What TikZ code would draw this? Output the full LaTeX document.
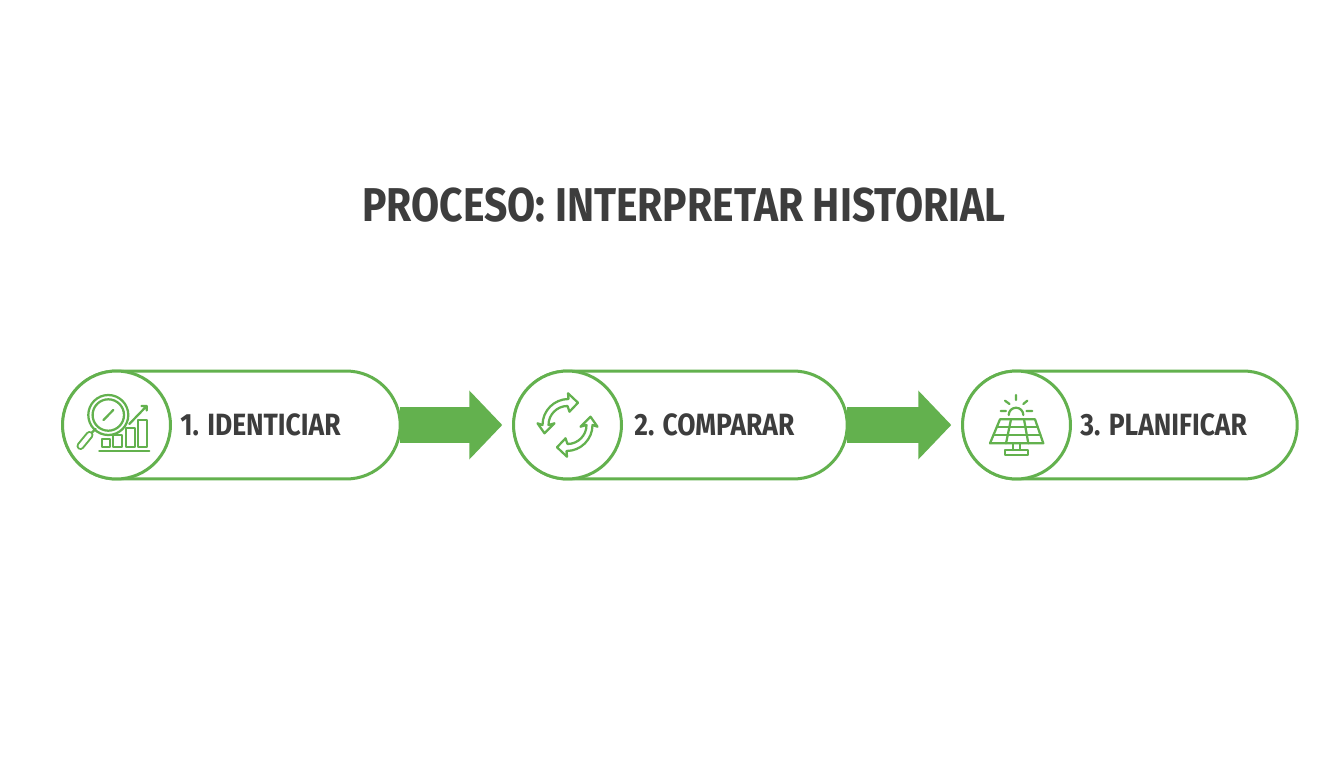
\documentclass[tikz,border=0pt]{standalone}
\usepackage{fontspec}
\setmainfont[FakeStretch=0.86]{Fira Sans}
\usetikzlibrary{shapes.misc,arrows.meta}
\definecolor{flowgreen}{HTML}{63B14E}
\definecolor{flowtext}{HTML}{3D3D3D}

\begin{document}
\begin{tikzpicture}[x=0.02cm,y=0.02cm]
  \tikzset{pill/.style = {shape=rounded rectangle,draw=flowgreen,line width=0.06cm,fill=white,minimum height=2.16cm,inner sep=0pt}}
  \tikzset{disc/.style = {shape=circle,draw=flowgreen,line width=0.06cm,fill=white,minimum size=2.16cm,inner sep=0pt}}
  \tikzset{steplabel/.style = {anchor=west,inner sep=0pt,text=flowtext,font=\fontsize{17.5}{21}\selectfont\bfseries}}
  \tikzset{flow/.style = {draw=flowgreen,line width=0.72cm,shorten <=-0.04cm,shorten >=0.2cm,-{Triangle[length=0.66cm,width=1.34cm]}}}
  \tikzset{icon/.style = {draw=flowgreen,line width=0.045cm,line cap=round,line join=round}}
  \tikzset{searchicon/.pic = {
    \draw[icon] (-8.2,10) circle (20) (-8.2,10) circle (15.7);
    \draw[icon] (-21,-4) -- (-26,-9);
    \draw[draw=flowgreen,line width=0.16cm,line cap=round] (-27,-10) -- (-36,-21);
    \draw[draw=white,line width=0.08cm,line cap=round] (-27,-10) -- (-36,-21);
    \draw[icon] (-13,5) -- (-3.2,15);
    \draw[icon] (-14.8,-22.3) rectangle (-6.5,-14.3);
    \draw[icon] (-3.2,-22.3) rectangle (5.2,-10);
    \draw[icon] (9.5,-22.3) rectangle (18.5,-3.3);
    \draw[icon] (21.8,-22.3) rectangle (30.2,5);
    \draw[icon] (-17.2,-25.7) -- (32.8,-25.7);
    \draw[icon] (12.8,1) -- (30.2,19) (25,19) -- (30.2,19) -- (30.2,14.5);
  }}
  \tikzset{cycleicon/.pic = {
    \foreach \turn in {0,180}
    \draw[icon,rotate=\turn] (10.5,22.3) -- (0.5,31.7) -- (1,26) arc[start angle=90,end angle=180,radius=26]
      -- (-30,1.7) -- (-23,-8.3) -- (-13,1.7) -- (-19,0) arc[start angle=180,end angle=90,radius=19]
      -- (2,13.3) -- cycle;
  }}
  \tikzset{solaricon/.pic = {
    \draw[icon] (-7.8,10) arc[start angle=180,end angle=0,radius=7.3];
    \draw[icon] (-0.5,30) -- (-0.5,25) (-11.5,24.3) -- (-7,21) (10.8,24.3) -- (6.8,21)
      (-15.8,14) -- (-10.5,14) (10,14) -- (15.8,14);
    \draw[icon] (-16.5,5.7) -- (18.5,5.7) -- (26.8,-18.3) -- (-26.5,-18.3) -- cycle;
    \draw[icon] (-19.6,-1.7) -- (21,-1.7) (-23,-10) -- (24,-10);
    \draw[icon] (-5.5,5.7) -- (-10.5,-18.3) (7.5,5.7) -- (11.8,-18.3);
    \draw[icon] (-3.2,-18.3) -- (-3.2,-25) (3.5,-18.3) -- (3.5,-25);
    \draw[icon] (-11.5,-30) rectangle (11.8,-25);
  }}

  \useasboundingbox (0,0) rectangle (1344,768);
  \fill[white] (0,0) rectangle (1344,768);

  \node[inner sep=0pt,text=flowtext,font=\fontsize{27}{32}\selectfont\bfseries] (title) at (684,563) {PROCESO: INTERPRETAR HISTORIAL};

  \node[pill,minimum width=6.75cm] (1) at (231.5,343) {};
  \node[pill,minimum width=6.67cm] (2) at (680.5,343) {};
  \node[pill,minimum width=6.69cm] (3) at (1130,343) {};

  \node[disc] (d1) at (116.5,343) {};
  \node[disc] (d2) at (567.5,343) {};
  \node[disc] (d3) at (1016.5,343) {};

  \node[steplabel] (l1) at (180,343) {1. IDENTICIAR};
  \node[steplabel] (l2) at (634,343) {2. COMPARAR};
  \node[steplabel] (l3) at (1080,343) {3. PLANIFICAR};

  \pic at (d1) {searchicon};
  \pic at (d2) {cycleicon};
  \pic at (d3) {solaricon};

  \foreach \from/\to in {1/2,2/3}
    \draw[flow] (\from.east) -- (\to.west);
\end{tikzpicture}
\end{document}
